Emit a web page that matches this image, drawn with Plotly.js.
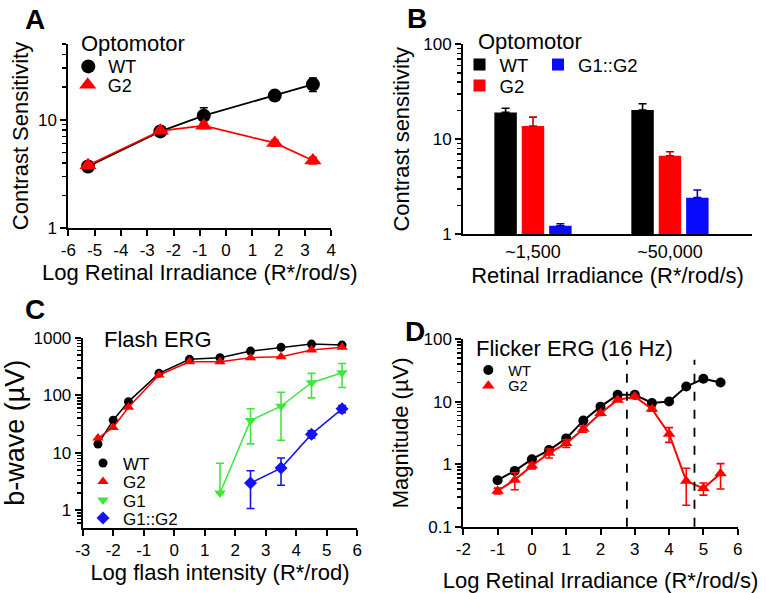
<!DOCTYPE html>
<html>
<head>
<meta charset="utf-8">
<script src="https://cdn.plot.ly/plotly-3.0.1.min.js"></script>
<style>html,body{margin:0;padding:0;background:#fff;}#chart{width:767px;height:593px;}</style>
</head>
<body>
<div id="chart"></div>
<script>
// ---------- Panel A: Optomotor contrast sensitivity ----------
const aX = [-5.25, -2.5, -0.85, 1.85, 3.3];
const aWT = [3.7, 7.8, 10.9, 16.7, 21.2];
const aWTerr = [0.3, 0.5, 2.0, 1.5, 3.0];
const aG2 = [3.8, 7.9, 8.8, 6.1, 4.2];
const aG2err = [0.2, 0.4, 0.5, 0.4, 0.3];
const aXTicks = [-6, -5, -4, -3, -2, -1, 0, 1, 2, 3, 4];
const aXTickText = ['-6', '-5', '-4', '-3', '-2', '-1', '0', '1', '2', '3', '4'];

// ---------- Panel B: Optomotor bars ----------
const bCats = ['~1,500', '~50,000'];
const bWT = [19.2, 20.3];
const bWTerr = [2.0, 3.4];
const bG2 = [13.8, 6.7];
const bG2err = [3.3, 0.7];
const bG1G2 = [1.23, 2.43];
const bG1G2err = [0.06, 0.5];

// ---------- Panel C: Flash ERG ----------
const cX = [-2.5, -2, -1.5, -0.5, 0.5, 1.5, 2.5, 3.5, 4.5, 5.5];
const cWT = [14.2, 36.9, 77.5, 240, 421, 449, 586, 680, 775, 745];
const cG2 = [18, 27.5, 62, 225, 382, 382, 449, 468, 610, 680];
const cG1X = [1.5, 2.5, 3.5, 4.5, 5.5];
const cG1 = [2.0, 36.3, 64.5, 165, 246];
const cG1errPlus = [4.6, 22, 48, 75, 110];
const cG1errMinus = [0, 22, 48, 75, 110];
const cG1G2X = [2.5, 3.5, 4.5, 5.5];
const cG1G2 = [2.98, 5.43, 21.1, 58];
const cG1G2err = [1.9, 2.7, 3, 8];
const cXTicks = [-3, -2, -1, 0, 1, 2, 3, 4, 5, 6];
const cXTickText = ['-3', '-2', '-1', '0', '1', '2', '3', '4', '5', '6'];

// ---------- Panel D: Flicker ERG (16 Hz) ----------
const dX = [-1, -0.5, 0, 0.5, 1, 1.5, 2, 2.5, 3, 3.5, 4, 4.5, 5, 5.5];
const dWT = [0.553, 0.78, 1.2, 1.68, 2.58, 4.96, 8.3, 12.8, 12.8, 9.5, 10, 17.4, 23.1, 20.2];
const dG2 = [0.373, 0.56, 0.94, 1.5, 2.15, 3.64, 6.5, 10.6, 12.0, 7.6, 3.03, 0.54, 0.41, 0.71];
const dG2err = [0.04, 0.17, 0.1, 0.25, 0.3, 0.4, 0.5, 0.5, 0.5, 0.6, 0.8, 0.32, 0.09, 0.31];
const dDashedX = [2.77, 4.74];
const dXTicks = [-2, -1, 0, 1, 2, 3, 4, 5, 6];
const dXTickText = ['-2', '-1', '0', '1', '2', '3', '4', '5', '6'];

const FONT = 'Liberation Sans, Arial, Helvetica, sans-serif';
const RED = '#ff0000', BLACK = '#000000', GREEN = '#3ae83a', BLUE = '#1414f0', BBLUE = '#0a0aff';

function lineTrace(x, y, color, w, xa, ya) {
  return {x: x, y: y, xaxis: xa, yaxis: ya, mode: 'lines', type: 'scatter',
    line: {color: color, width: w}, showlegend: false, hoverinfo: 'skip'};
}
function markTrace(name, x, y, color, symbol, size, xa, ya, legend, errP, errM) {
  const t = {name: name, x: x, y: y, xaxis: xa, yaxis: ya, mode: 'markers', type: 'scatter',
    marker: {color: color, symbol: symbol, size: size, line: {width: 0}}, legend: legend};
  if (errP) {
    t.error_y = {type: 'data', array: errP, arrayminus: errM || errP, symmetric: false,
      color: color, thickness: 1.6, width: 4};
  }
  return t;
}

const data = [
  // A
  lineTrace(aX, aWT, BLACK, 1.8, 'x', 'y'),
  markTrace('WT', aX, aWT, BLACK, 'circle', 14, 'x', 'y', 'legend', aWTerr),
  lineTrace(aX, aG2, RED, 1.8, 'x', 'y'),
  markTrace('G2', aX, aG2, RED, 'triangle-up', 15, 'x', 'y', 'legend2', aG2err),
  // B
  {name: 'WT', type: 'bar', x: bCats, y: bWT, xaxis: 'x2', yaxis: 'y2', marker: {color: BLACK},
    error_y: {type: 'data', array: bWTerr, arrayminus: [0, 0], symmetric: false, color: BLACK, thickness: 1.6, width: 4},
    legend: 'legend3'},
  {name: 'G2', type: 'bar', x: bCats, y: bG2, xaxis: 'x2', yaxis: 'y2', marker: {color: RED},
    error_y: {type: 'data', array: bG2err, arrayminus: [0, 0], symmetric: false, color: '#c00000', thickness: 1.6, width: 4},
    legend: 'legend4'},
  {name: 'G1::G2', type: 'bar', x: bCats, y: bG1G2, xaxis: 'x2', yaxis: 'y2', marker: {color: BBLUE},
    error_y: {type: 'data', array: bG1G2err, arrayminus: [0, 0], symmetric: false, color: '#0000b0', thickness: 1.6, width: 4},
    legend: 'legend5'},
  // C
  lineTrace(cX, cWT, BLACK, 1.5, 'x3', 'y3'),
  markTrace('WT', cX, cWT, BLACK, 'circle', 9, 'x3', 'y3', 'legend6'),
  lineTrace(cX, cG2, RED, 1.5, 'x3', 'y3'),
  markTrace('G2', cX, cG2, RED, 'triangle-up', 10, 'x3', 'y3', 'legend7'),
  lineTrace(cG1X, cG1, GREEN, 1.5, 'x3', 'y3'),
  markTrace('G1', cG1X, cG1, GREEN, 'triangle-down', 10, 'x3', 'y3', 'legend8', cG1errPlus, cG1errMinus),
  lineTrace(cG1G2X, cG1G2, BLUE, 1.5, 'x3', 'y3'),
  markTrace('G1::G2', cG1G2X, cG1G2, BLUE, 'diamond', 10, 'x3', 'y3', 'legend9', cG1G2err),
  // D
  lineTrace(dX, dWT, BLACK, 2, 'x4', 'y4'),
  markTrace('WT', dX, dWT, BLACK, 'circle', 10, 'x4', 'y4', 'legend10'),
  lineTrace(dX, dG2, RED, 2, 'x4', 'y4'),
  markTrace('G2', dX, dG2, RED, 'triangle-up', 11, 'x4', 'y4', 'legend11', dG2err)
];

function px(v) { return v / 767; }
function py(v) { return 1 - v / 593; }

const axisCommon = {
  showline: true, linecolor: '#000', linewidth: 2, mirror: false,
  showgrid: false, zeroline: false, ticks: 'outside', ticklen: 6, tickwidth: 2, tickcolor: '#000',
  tickfont: {family: FONT, size: 17, color: '#000'}, fixedrange: true
};
function logMinor(vals) {
  return {tickmode: 'array', tickvals: vals, ticks: 'outside', ticklen: 4, tickwidth: 1.5, tickcolor: '#000'};
}
function titleObj(text, size, standoff) {
  return {text: text, font: {family: FONT, size: size, color: '#000'}, standoff: standoff};
}

function leg(cx, cy, size) {
  return {x: px(cx - 20), y: py(cy), xanchor: 'left', yanchor: 'middle', bgcolor: 'rgba(0,0,0,0)',
    borderwidth: 0, font: {family: FONT, size: size, color: '#000'}, itemclick: false, itemdoubleclick: false};
}

const layout = {
  width: 767, height: 593,
  margin: {l: 0, r: 0, t: 0, b: 0},
  paper_bgcolor: '#fff', plot_bgcolor: 'rgba(0,0,0,0)',
  font: {family: FONT, color: '#000'},
  showlegend: true,
  barmode: 'group', bargap: 0.4, bargroupgap: 0.18,
  // A
  xaxis: Object.assign({}, axisCommon, {domain: [px(68.3), px(331.3)], anchor: 'y', range: [-6, 4],
    tickmode: 'array', tickvals: aXTicks, ticktext: aXTickText,
    title: titleObj('Log Retinal Irradiance (R*/rod/s)', 22, 4)}),
  yaxis: Object.assign({}, axisCommon, {domain: [py(228), py(44)], anchor: 'x', type: 'log', range: [0, Math.log10(50)],
    tickvals: [1, 10], ticktext: ['1', '10'],
    minor: logMinor([2, 3, 4, 5, 6, 7, 8, 9, 20, 30, 40, 50]),
    title: titleObj('Contrast Sensitivity', 22, 3)}),
  // B
  xaxis2: Object.assign({}, axisCommon, {domain: [px(463), px(752)], anchor: 'y2', type: 'category',
    range: [-0.511, 1.599], ticks: '', tickfont: {family: FONT, size: 18, color: '#000'},
    title: titleObj('Retinal Irradiance (R*/rod/s)', 22, 7)}),
  yaxis2: Object.assign({}, axisCommon, {domain: [py(234.3), py(44.3)], anchor: 'x2', type: 'log', range: [0, 2],
    tickvals: [1, 10, 100], ticktext: ['1', '10', '100'],
    minor: logMinor([2, 3, 4, 5, 6, 7, 8, 9, 20, 30, 40, 50, 60, 70, 80, 90]),
    title: titleObj('Contrast sensitivity', 22, 8)}),
  // C
  xaxis3: Object.assign({}, axisCommon, {domain: [px(82.7), px(357.3)], anchor: 'y3', range: [-3, 6],
    tickmode: 'array', tickvals: cXTicks, ticktext: cXTickText,
    title: titleObj('Log flash intensity (R*/rod)', 22, 4)}),
  yaxis3: Object.assign({}, axisCommon, {domain: [py(527.7), py(337.7)], anchor: 'x3', type: 'log', range: [Math.log10(0.5), 3],
    tickvals: [1, 10, 100, 1000], ticktext: ['1', '10', '100', '1000'],
    minor: logMinor([0.6, 0.7, 0.8, 0.9, 2, 3, 4, 5, 6, 7, 8, 9, 20, 30, 40, 50, 60, 70, 80, 90, 200, 300, 400, 500, 600, 700, 800, 900]),
    title: titleObj('b-wave (\u00b5V)', 27, 4)}),
  // D
  xaxis4: Object.assign({}, axisCommon, {domain: [px(463.3), px(737.7)], anchor: 'y4', range: [-2, 6],
    tickmode: 'array', tickvals: dXTicks, ticktext: dXTickText,
    title: titleObj('Log Retinal Irradiance (R*/rod/s)', 22, 15)}),
  yaxis4: Object.assign({}, axisCommon, {domain: [py(526.7), py(339)], anchor: 'x4', type: 'log', range: [-1, 2],
    tickvals: [0.1, 1, 10, 100], ticktext: ['0.1', '1', '10', '100'],
    minor: logMinor([0.2, 0.3, 0.4, 0.5, 0.6, 0.7, 0.8, 0.9, 2, 3, 4, 5, 6, 7, 8, 9, 20, 30, 40, 50, 60, 70, 80, 90]),
    title: titleObj('Magnitude (\u00b5V)', 22, 9)}),
  // legends (one per entry for exact placement)
  legend: leg(88.3, 66.7, 18),
  legend2: leg(87.7, 85, 18),
  legend3: leg(479.5, 65, 18.5),
  legend4: leg(479.5, 86, 18.5),
  legend5: leg(558, 65, 18.5),
  legend6: leg(103, 463.5, 17),
  legend7: leg(103, 482, 17),
  legend8: leg(103, 500.5, 17),
  legend9: leg(103, 518.5, 17),
  legend10: leg(488.3, 370, 14.5),
  legend11: leg(488.3, 385.7, 14.5),
  shapes: dDashedX.map(v => ({type: 'line', xref: 'x4', yref: 'y4 domain', x0: v, x1: v, y0: 0, y1: 0.89,
    line: {color: '#000', width: 1.8, dash: 'dash'}})),
  annotations: [
    {text: '<b>A</b>', x: px(35), y: py(20)},
    {text: '<b>B</b>', x: px(416.5), y: py(19)},
    {text: '<b>C</b>', x: px(35), y: py(309)},
    {text: '<b>D</b>', x: px(415), y: py(331)}
  ].map(a => Object.assign(a, {xref: 'paper', yref: 'paper', xanchor: 'center', yanchor: 'middle', showarrow: false,
      font: {family: FONT, size: 28, color: '#000'}}))
   .concat([
    {text: 'Optomotor', x: px(79), y: py(43)},
    {text: 'Optomotor', x: px(475.7), y: py(41.5)},
    {text: 'Flash ERG', x: px(102.3), y: py(339.8)},
    {text: 'Flicker ERG (16 Hz)', x: px(474), y: py(348)}
   ].map(a => Object.assign(a, {xref: 'paper', yref: 'paper', xanchor: 'left', yanchor: 'middle', showarrow: false,
      font: {family: FONT, size: 22, color: '#000'}})))
};

Plotly.newPlot('chart', data, layout, {staticPlot: true, displayModeBar: false});
</script>
</body>
</html>
